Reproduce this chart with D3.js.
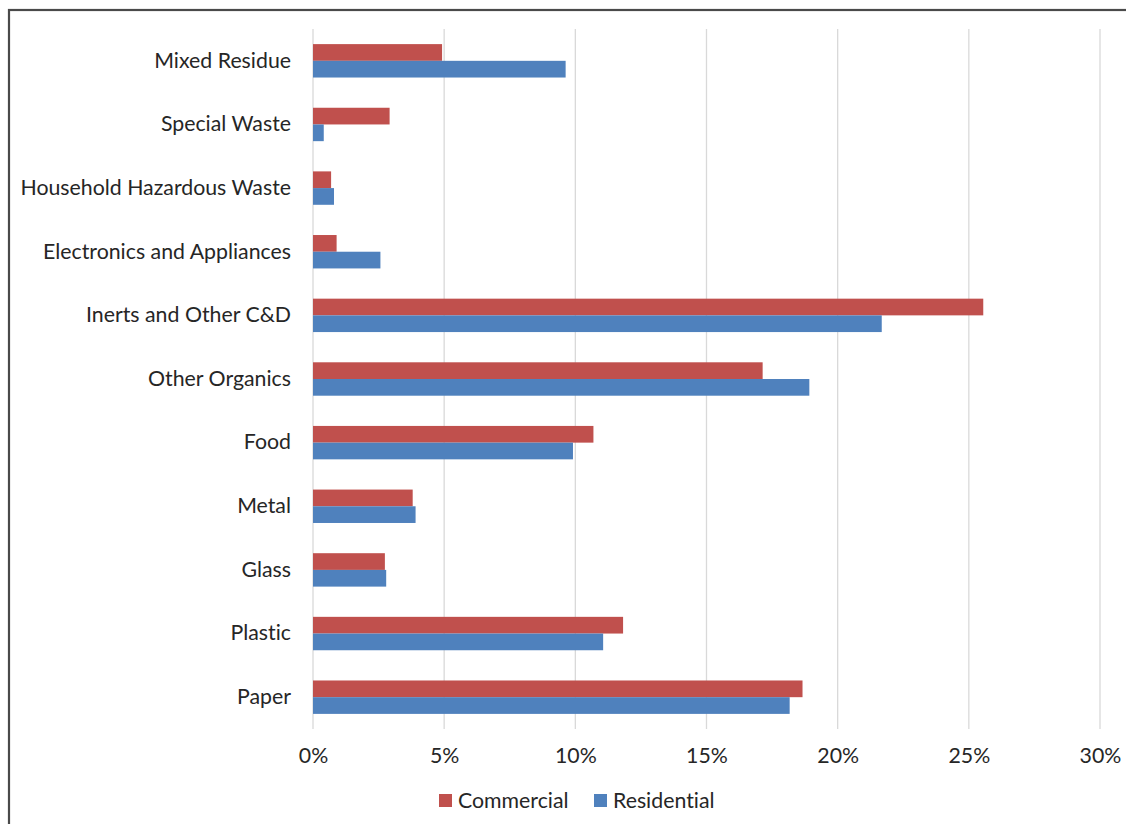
<!DOCTYPE html>
<html>
<head>
<meta charset="utf-8">
<script src="https://cdn.jsdelivr.net/npm/d3@7"></script>
<style>
  html, body { margin: 0; padding: 0; background: #fff; }
  svg { display: block; }
  text { font-family: Lato, "Open Sans", sans-serif; fill: #262626; font-variant-ligatures: none; }
</style>
</head>
<body>
<svg id="chart" width="1126" height="824"></svg>
<script>
// Waste composition by sector (share of total tonnage)
const categories = [
  "Mixed Residue", "Special Waste", "Household Hazardous Waste",
  "Electronics and Appliances", "Inerts and Other C&D", "Other Organics",
  "Food", "Metal", "Glass", "Plastic", "Paper"
];
const seriesNames = ["Commercial", "Residential"];
const commercial  = [4.92, 2.92, 0.69, 0.90, 25.55, 17.14, 10.69, 3.80, 2.74, 11.82, 18.66];
const residential = [9.63, 0.41, 0.80, 2.57, 21.68, 18.92,  9.91, 3.91, 2.79, 11.06, 18.17];
const xTicks = [0, 5, 10, 15, 20, 25, 30];
const colors = ["#C0504D", "#4F81BD"];

const FONT_SIZE = "21.3px";
const svg = d3.select("#chart");

// outer frame
svg.append("rect")
  .attr("x", 9).attr("y", 10).attr("width", 1140).attr("height", 840)
  .attr("fill", "none").attr("stroke", "#4a4a4a").attr("stroke-width", 2.2);

const plot = { left: 313, right: 1100, top: 29, bottom: 729 };

const x = d3.scaleLinear().domain([0, 30]).range([plot.left, plot.right]);
const y = d3.scaleBand().domain(categories).range([plot.top, plot.bottom])
  .paddingInner(0.475).paddingOuter(0.2375);
const ySub = d3.scaleBand().domain(seriesNames).range([0, y.bandwidth()]);

// vertical gridlines
svg.append("g").selectAll("line").data(xTicks).join("line")
  .attr("x1", d => x(d)).attr("x2", d => x(d))
  .attr("y1", plot.top).attr("y2", plot.bottom)
  .attr("stroke", "#D9D9D9").attr("stroke-width", 1.3);

// bars
const rows = categories.map((c, i) => ({ cat: c, vals: [commercial[i], residential[i]] }));
const groups = svg.append("g").selectAll("g").data(rows).join("g")
  .attr("transform", d => `translate(0,${y(d.cat)})`);
groups.selectAll("rect")
  .data(d => d.vals.map((v, j) => ({ name: seriesNames[j], v, j })))
  .join("rect")
  .attr("x", x(0))
  .attr("y", d => ySub(d.name))
  .attr("width", d => x(d.v) - x(0))
  .attr("height", ySub.bandwidth())
  .attr("fill", d => colors[d.j]);

// category labels
const yAxis = d3.axisLeft(y).tickSize(0).tickPadding(22);
const gy = svg.append("g").attr("transform", `translate(${plot.left},0)`).call(yAxis);
gy.select(".domain").remove();
gy.selectAll("text").style("font-size", FONT_SIZE).style("font-family", "Lato, sans-serif").attr("fill", "#262626");

// percentage axis
const xAxis = d3.axisBottom(x).tickValues(xTicks).tickSize(0).tickPadding(19)
  .tickFormat(d => d + "%");
const gx = svg.append("g").attr("transform", `translate(0,${plot.bottom})`).call(xAxis);
gx.select(".domain").remove();
gx.selectAll("text").style("font-size", FONT_SIZE).style("font-family", "Lato, sans-serif").attr("fill", "#262626");

// legend
const legendItems = [
  { name: seriesNames[0], color: colors[0], x: 439 },
  { name: seriesNames[1], color: colors[1], x: 594 }
];
const lg = svg.append("g").selectAll("g").data(legendItems).join("g")
  .attr("transform", d => `translate(${d.x},794)`);
lg.append("rect").attr("width", 13).attr("height", 13).attr("fill", d => d.color);
lg.append("text").attr("x", 19).attr("y", 6.5).attr("dy", "0.35em")
  .style("font-size", FONT_SIZE).text(d => d.name);
</script>
</body>
</html>
